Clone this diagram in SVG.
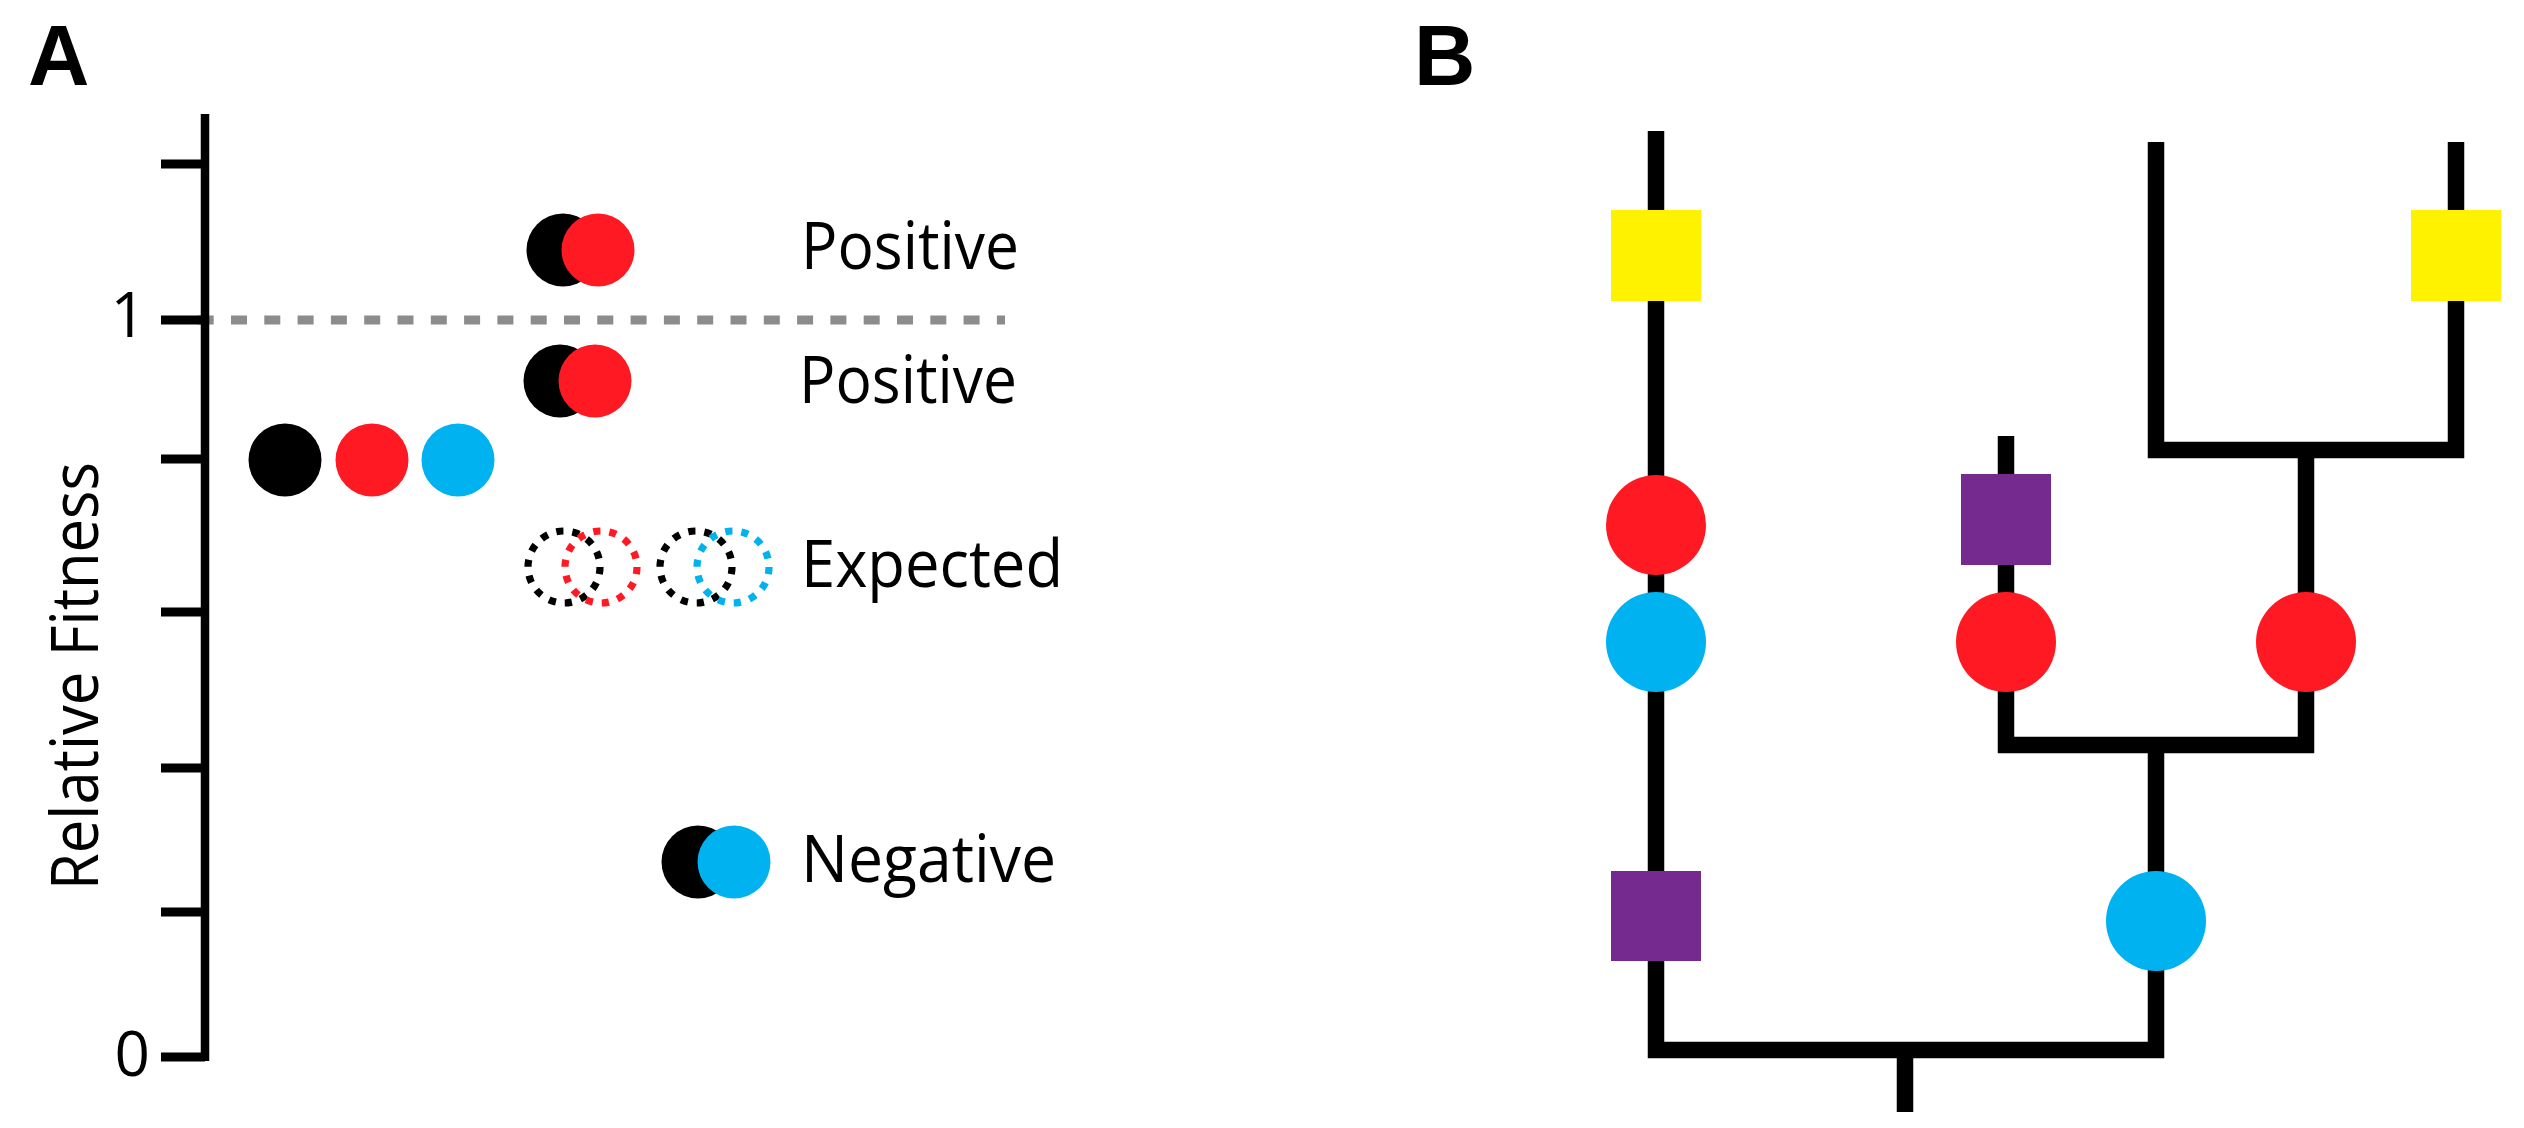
<svg xmlns="http://www.w3.org/2000/svg" width="2524" height="1128" viewBox="0 0 2524 1128">
<style>
.lbl{font-family:"Open Sans","Liberation Sans",sans-serif;font-size:65px;fill:#000}
.num{font-family:"Open Sans","Liberation Sans",sans-serif;font-size:62px;fill:#000}
.panel{font-family:"Liberation Sans",Arial,sans-serif;font-weight:bold;font-size:85px;fill:#000}
.axis{stroke:#000;stroke-width:8.5;fill:none}
.tick{stroke:#000;stroke-width:9;fill:none}
.ref{stroke:#8c8c8c;stroke-width:9;stroke-dasharray:16 17.3;fill:none}
.blk{fill:#000}
.red{fill:#ff1a23}
.blu{fill:#00b2f0}
.yel{fill:#fff200}
.pur{fill:#752a90}
.dot{fill:none;stroke-width:7.2;stroke-dasharray:7.2 8.96}
.tree{stroke:#000;stroke-width:16.5;fill:none;stroke-linejoin:miter;stroke-linecap:butt}
</style>

<text class="panel" x="28" y="85">A</text>
<text class="panel" x="1414" y="85">B</text>

<g id="axisA">
<line class="ref" x1="197.7" y1="320" x2="1005" y2="320"/>
<line class="axis" x1="205" y1="114" x2="205" y2="1061"/>
<line class="tick" x1="161" y1="164" x2="205" y2="164"/>
<line class="tick" x1="161" y1="320" x2="205" y2="320"/>
<line class="tick" x1="161" y1="459" x2="205" y2="459"/>
<line class="tick" x1="161" y1="612" x2="205" y2="612"/>
<line class="tick" x1="161" y1="768" x2="205" y2="768"/>
<line class="tick" x1="161" y1="912" x2="205" y2="912"/>
<line class="tick" x1="161" y1="1057" x2="205" y2="1057"/>
<text class="num" x="146" y="337" text-anchor="end">1</text>
<text class="num" x="150" y="1076" text-anchor="end">0</text>
<text class="lbl" transform="translate(98,890) rotate(-90)" x="0" y="0" textLength="428" lengthAdjust="spacingAndGlyphs">Relative Fitness</text>
</g>

<g id="singles">
<circle class="blk" cx="285" cy="460" r="36.5"/>
<circle class="red" cx="372" cy="460" r="36.5"/>
<circle class="blu" cx="458" cy="460" r="36.5"/>
</g>

<g id="positive-high">
<circle class="blk" cx="563" cy="250" r="36.5"/>
<circle class="red" cx="598" cy="250" r="36.5"/>
<text class="lbl" x="801" y="269" textLength="218" lengthAdjust="spacingAndGlyphs">Positive</text>
</g>

<g id="positive-low">
<circle class="blk" cx="560" cy="381" r="36.5"/>
<circle class="red" cx="595" cy="381" r="36.5"/>
<text class="lbl" x="799" y="403" textLength="218" lengthAdjust="spacingAndGlyphs">Positive</text>
</g>

<g id="expected">
<circle class="dot" stroke="#000" cx="564" cy="567" r="36"/>
<circle class="dot" stroke="#ff1a23" cx="601" cy="567" r="36"/>
<circle class="dot" stroke="#000" cx="696" cy="567" r="36"/>
<circle class="dot" stroke="#00b2f0" cx="733" cy="567" r="36"/>
<text class="lbl" x="801" y="587" textLength="262" lengthAdjust="spacingAndGlyphs">Expected</text>
</g>

<g id="negative">
<circle class="blk" cx="698" cy="862" r="36.5"/>
<circle class="blu" cx="734" cy="862" r="36.5"/>
<text class="lbl" x="801" y="882" textLength="255" lengthAdjust="spacingAndGlyphs">Negative</text>
</g>

<g id="connectors">
<path class="tree" d="M1656,131 V1050 H2156 V745"/>
<path class="tree" d="M1905,1050 V1112"/>
<path class="tree" d="M2006,436 V745 H2306 V450"/>
<path class="tree" d="M2156,142 V450 H2456 V142"/>
</g>

<g id="yellow-left"><rect class="yel" x="1611" y="210" width="90" height="91"/></g>
<g id="red-left"><circle class="red" cx="1656" cy="525" r="50"/></g>
<g id="blue-left"><circle class="blu" cx="1656" cy="642" r="50"/></g>
<g id="purple-left"><rect class="pur" x="1611" y="871" width="90" height="90"/></g>
<g id="purple-mid"><rect class="pur" x="1961" y="474" width="90" height="91"/></g>
<g id="red-mid"><circle class="red" cx="2006" cy="642" r="50"/></g>
<g id="red-right"><circle class="red" cx="2306" cy="642" r="50"/></g>
<g id="blue-mid"><circle class="blu" cx="2156" cy="921" r="50"/></g>
<g id="yellow-right"><rect class="yel" x="2411" y="210" width="90" height="91"/></g>
</svg>
